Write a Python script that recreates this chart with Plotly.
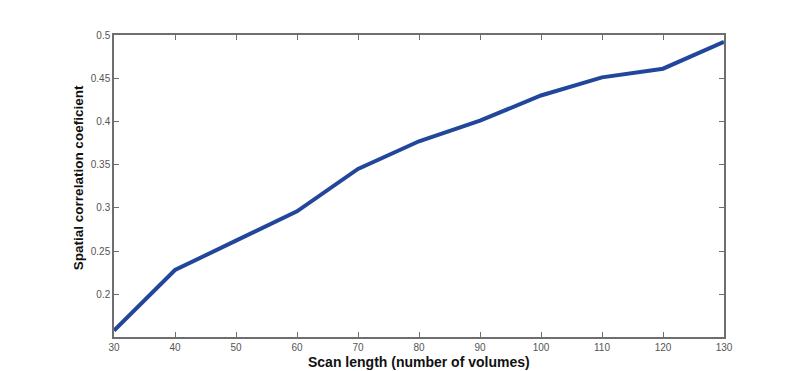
import plotly.graph_objects as go

scan_length = [30, 40, 50, 60, 70, 80, 90, 100, 110, 120, 130]
corr = [0.158, 0.228, 0.262, 0.296, 0.345, 0.377, 0.401, 0.430, 0.451, 0.461, 0.492]
x_ticks = [30, 40, 50, 60, 70, 80, 90, 100, 110, 120, 130]
y_ticks = [0.2, 0.25, 0.3, 0.35, 0.4, 0.45, 0.5]

fig = go.Figure()
fig.add_trace(go.Scatter(x=scan_length, y=corr, mode="lines",
                         line=dict(color="#22479a", width=4)))

axis_common = dict(showline=True, linecolor="#6e6e6e", linewidth=1.5, mirror="allticks",
                   ticks="inside", ticklen=5, tickcolor="#6e6e6e", tickwidth=1,
                   showgrid=False, zeroline=False, automargin=False,
                   tickfont=dict(family="Liberation Sans, Arial", size=10, color="#555555"))

fig.update_layout(
    width=787, height=371,
    margin=dict(l=114, r=63, t=35, b=34),
    paper_bgcolor="white", plot_bgcolor="white",
    showlegend=False,
    xaxis=dict(range=[30, 130], tickvals=x_ticks, ticktext=[str(v) for v in x_ticks],
               **axis_common),
    yaxis=dict(range=[0.1505, 0.5], tickvals=y_ticks, ticktext=[str(v) for v in y_ticks],
               **axis_common),
)

fig.add_annotation(text="<b>Spatial correlation coeficient</b>", textangle=-90,
                   xref="paper", yref="paper", x=-0.059, y=0.526,
                   xanchor="center", yanchor="middle", showarrow=False,
                   font=dict(family="Liberation Sans, Arial", size=13.5, color="#111111"))
fig.add_annotation(text="<b>Scan length (number of volumes)</b>",
                   xref="paper", yref="paper", x=0.5, y=-0.082,
                   xanchor="center", yanchor="middle", showarrow=False,
                   font=dict(family="Liberation Sans, Arial", size=14, color="#111111"))

fig.write_html("out.html")
